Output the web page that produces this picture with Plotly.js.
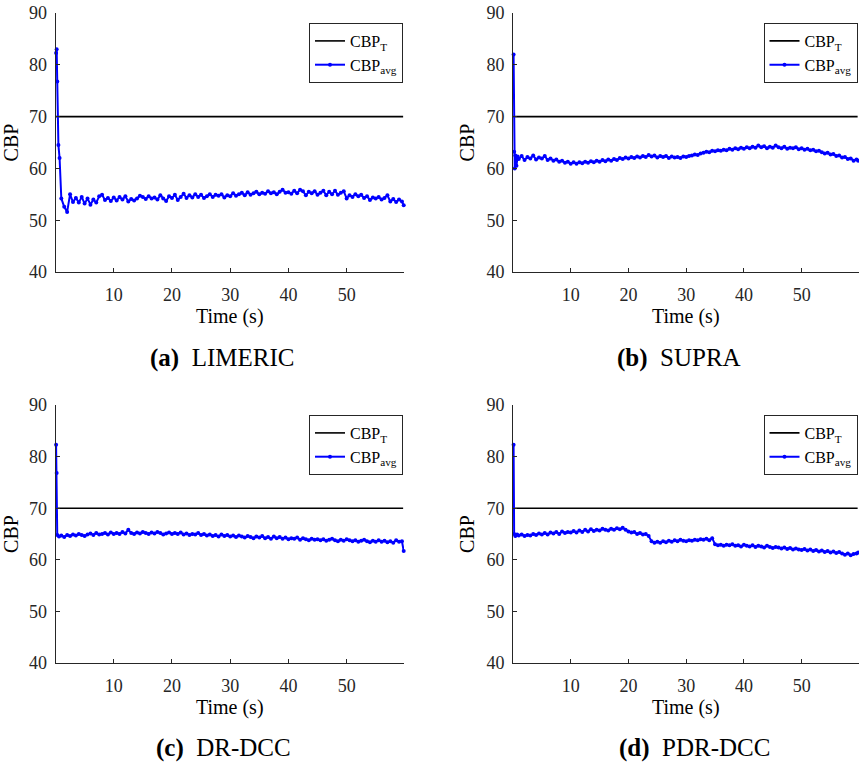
<!DOCTYPE html>
<html>
<head>
<meta charset="utf-8">
<script src="https://cdn.plot.ly/plotly-3.0.1.min.js"></script>
<style>html,body{margin:0;padding:0;background:#fff;}#chart{width:859px;height:765px;}</style>
</head>
<body>
<div id="chart"></div>
<script>
// ---------- DATA ----------
const panelLetters = ["(a)", "(b)", "(c)", "(d)"];
const panelNames = ["LIMERIC", "SUPRA", "DR-DCC", "PDR-DCC"];
const xTicks = [10, 20, 30, 40, 50];
const yTicks = [40, 50, 60, 70, 80, 90];
const cbpTarget = 70;
const targetTime = [0, 59.7];

// shared steady-state sampling times (s)
const timeSteady = [
  1, 1.5, 2, 2.5, 3, 3.5, 4, 4.5, 5, 5.5,
  6, 6.5, 7, 7.5, 8, 8.5, 9, 9.5, 10, 10.5,
  11, 11.5, 12, 12.5, 13, 13.5, 14, 14.5, 15, 15.5,
  16, 16.5, 17, 17.5, 18, 18.5, 19, 19.5, 20, 20.5,
  21, 21.5, 22, 22.5, 23, 23.5, 24, 24.5, 25, 25.5,
  26, 26.5, 27, 27.5, 28, 28.5, 29, 29.5, 30, 30.5,
  31, 31.5, 32, 32.5, 33, 33.5, 34, 34.5, 35, 35.5,
  36, 36.5, 37, 37.5, 38, 38.5, 39, 39.5, 40, 40.5,
  41, 41.5, 42, 42.5, 43, 43.5, 44, 44.5, 45, 45.5,
  46, 46.5, 47, 47.5, 48, 48.5, 49, 49.5, 50, 50.5,
  51, 51.5, 52, 52.5, 53, 53.5, 54, 54.5, 55, 55.5,
  56, 56.5, 57, 57.5, 58, 58.5, 59, 59.5, 59.8
];

// (a) LIMERIC
const limericHeadTime = [0.1, 0.2, 0.3, 0.5, 0.7];
const limericHeadCBP = [82.3, 83.0, 76.8, 64.5, 62.0];
const limericCBP = [
  54.2, 52.6, 51.6, 55.0, 53.5, 54.3, 53.4, 54.5, 53.2, 54.2,
  53.0, 54.0, 53.4, 54.6, 54.9, 53.9, 54.3, 53.7, 54.4, 53.8,
  54.5, 54.0, 54.6, 53.6, 54.1, 53.8, 54.2, 54.7, 54.5, 54.1,
  54.6, 54.2, 54.4, 54.0, 54.8, 54.2, 53.7, 54.6, 54.3, 54.9,
  53.9, 54.5, 55.1, 54.3, 54.8, 54.4, 55.0, 54.5, 54.9, 54.3,
  54.6, 55.0, 54.5, 54.9, 54.7, 55.0, 54.4, 54.8, 54.6, 55.2,
  54.7, 55.0, 55.3, 54.8, 55.4, 54.9, 55.2, 55.5, 55.0, 55.3,
  55.1, 55.6, 55.2, 55.4, 55.0, 55.5, 55.9, 55.3, 55.4, 55.1,
  55.7, 55.2, 55.9, 55.6, 54.8, 55.5, 55.2, 55.6, 54.9, 55.3,
  55.7, 54.8, 55.5, 55.0, 55.7, 54.9, 55.3, 55.6, 54.2, 54.8,
  54.5, 55.0, 54.6, 54.9, 54.3, 54.6, 53.9, 54.4, 54.2, 54.5,
  54.0, 54.3, 54.8, 53.6, 54.1, 53.5, 54.0, 53.6, 52.9
];

// (b) SUPRA
const supraHeadTime = [0.1, 0.2, 0.3, 0.4, 0.6, 0.8];
const supraHeadCBP = [82.0, 63.2, 60.0, 62.5, 60.5, 62.3];
const supraCBP = [
  61.8, 62.4, 61.6, 62.2, 61.9, 62.5, 61.7, 62.1, 61.9, 62.4,
  61.6, 61.9, 61.5, 61.7, 61.3, 61.5, 61.1, 61.3, 60.9, 61.2,
  60.9, 61.2, 61.0, 61.3, 61.1, 61.4, 61.2, 61.5, 61.3, 61.6,
  61.4, 61.7, 61.5, 61.8, 61.6, 62.0, 61.8, 62.1, 61.9, 62.2,
  62.0, 62.3, 62.1, 62.4, 62.2, 62.6, 62.3, 62.5, 62.1, 62.4,
  62.2, 62.4, 62.0, 62.3, 62.1, 62.2, 62.0, 62.3, 62.2, 62.4,
  62.5, 62.7, 62.6, 62.9, 63.0, 63.2, 63.1, 63.4, 63.3, 63.5,
  63.4, 63.6, 63.5, 63.8, 63.6, 63.9, 63.7, 64.0, 63.8, 64.1,
  63.9, 64.2, 64.0, 64.4, 64.1, 64.3, 63.9, 64.2, 64.0, 64.4,
  64.1, 63.9, 64.2, 63.8, 64.0, 63.9, 64.1, 63.7, 63.9, 63.6,
  63.8, 63.5, 63.6, 63.3, 63.4, 63.1, 62.9, 63.0, 62.7, 62.8,
  62.4, 62.5, 62.1, 62.2, 61.8, 61.9, 61.5, 61.7, 61.5
];

// (c) DR-DCC
const drdccHeadTime = [0.1, 0.2, 0.3, 0.6];
const drdccHeadCBP = [82.3, 76.8, 64.8, 64.5];
const drdccCBP = [
  64.7, 64.4, 64.8, 64.6, 64.9, 64.7, 65.0, 64.8, 64.6, 64.9,
  65.1, 64.8, 65.2, 64.9, 65.0, 65.2, 64.9, 65.3, 65.0, 65.2,
  65.0, 65.4, 65.1, 65.8, 65.2, 65.0, 65.3, 65.1, 65.4, 65.2,
  65.0, 65.3, 65.1, 65.4, 65.2, 64.9, 65.1, 65.3, 65.0, 65.2,
  65.0, 65.3, 64.9, 65.1, 64.8, 65.0, 64.9, 65.2, 64.8, 65.0,
  64.7, 64.9, 64.6, 64.8, 64.5, 64.9, 64.6, 64.8, 64.5, 64.7,
  64.4, 64.7, 64.5, 64.3, 64.6, 64.4, 64.2, 64.5, 64.3, 64.6,
  64.2, 64.4, 64.1, 64.5, 64.2, 64.4, 64.1, 64.3, 64.0, 64.2,
  64.1, 64.3, 63.9, 64.2, 64.0, 63.8, 64.1, 63.9, 64.0, 63.8,
  64.0, 63.7, 63.9, 64.1, 63.8, 63.6, 63.9, 63.7, 64.0, 63.8,
  63.6, 63.8, 63.5, 63.7, 63.9, 63.6, 63.4, 63.7, 63.5, 63.8,
  63.5, 63.7, 63.4, 63.6, 63.3, 63.8, 63.5, 63.6, 61.7
];

// (d) PDR-DCC
const pdrdccHeadTime = [0.1, 0.2, 0.4, 0.7];
const pdrdccHeadCBP = [82.3, 65.0, 64.6, 64.9];
const pdrdccCBP = [
  64.7, 64.9, 64.6, 64.8, 64.7, 65.0, 64.8, 65.1, 64.9, 65.2,
  64.9, 65.3, 65.1, 65.4, 65.0, 65.5, 65.2, 65.4, 65.3, 65.6,
  65.3, 65.7, 65.4, 65.8, 65.5, 65.9, 65.6, 65.8, 65.7, 66.0,
  65.8, 65.7, 66.0, 65.8, 66.1, 65.9, 66.2, 65.8, 65.5, 65.3,
  65.4, 65.0, 65.2, 64.9, 65.0, 64.6, 63.6, 63.3, 63.5, 63.3,
  63.6, 63.4, 63.7, 63.5, 63.8, 63.6, 63.9, 63.7, 63.6, 63.8,
  63.7, 63.9, 63.8, 64.0, 63.9, 64.1, 63.8, 64.2, 63.0, 62.8,
  62.9, 62.7, 62.9, 62.8, 63.0, 62.7, 62.8, 62.6, 62.9, 62.7,
  62.6, 62.8, 62.5, 62.7, 62.6, 62.4, 62.7, 62.5, 62.3, 62.5,
  62.4, 62.2, 62.4, 62.1, 62.3, 62.0, 62.2, 62.0, 61.9, 62.1,
  61.8, 62.0, 61.7, 61.9, 61.6, 61.8, 61.5, 61.7, 61.4, 61.6,
  61.3, 61.5, 61.2, 61.0, 61.2, 60.9, 61.1, 61.2, 61.4
];

// ---------- BUILD ----------
const seriesTime = [
  limericHeadTime.concat(timeSteady),
  supraHeadTime.concat(timeSteady),
  drdccHeadTime.concat(timeSteady),
  pdrdccHeadTime.concat(timeSteady)
];
const seriesCBP = [
  limericHeadCBP.concat(limericCBP),
  supraHeadCBP.concat(supraCBP),
  drdccHeadCBP.concat(drdccCBP),
  pdrdccHeadCBP.concat(pdrdccCBP)
];

const W = 859, H = 765;
// pixel boxes [left, right, top, bottom]
const boxes = [
  [55.5, 404, 13, 272],
  [513, 858.5, 13, 272],
  [55.5, 404, 405, 663],
  [513, 858.5, 405, 663]
];
const captionPos = [[222, 358], [679, 358], [224, 748], [694, 748]];
const FONT = "'Liberation Serif', 'Times New Roman', serif";
const AX = "#262626";

const traces = [];
const layout = {
  width: W, height: H,
  margin: {l: 0, r: 0, t: 0, b: 0},
  paper_bgcolor: "#ffffff",
  plot_bgcolor: "#ffffff",
  font: {family: FONT, color: AX, size: 18},
  annotations: []
};

for (let i = 0; i < 4; i++) {
  const sfx = i === 0 ? "" : String(i + 1);
  const xa = "x" + sfx, ya = "y" + sfx;
  const lg = "legend" + sfx;
  const [l, r, t, b] = boxes[i];
  traces.push({
    x: targetTime, y: targetTime.map(() => cbpTarget),
    xaxis: xa, yaxis: ya, legend: lg,
    mode: "lines", name: "CBP<sub>T</sub>",
    line: {color: "#000000", width: 1.6},
    hoverinfo: "skip"
  });
  traces.push({
    x: seriesTime[i], y: seriesCBP[i],
    xaxis: xa, yaxis: ya, legend: lg,
    mode: "lines+markers", name: "CBP<sub>avg</sub>",
    line: {color: "#0000ff", width: 2},
    marker: {color: "#0000ff", size: 4},
    cliponaxis: false
  });
  layout["xaxis" + sfx] = {
    domain: [l / W, r / W], anchor: ya,
    range: [0, 59.85], tickvals: xTicks, ticktext: xTicks.map(String),
    ticks: "inside", ticklen: 4, tickwidth: 1, tickcolor: AX,
    showline: true, linecolor: AX, linewidth: 1, mirror: false,
    showgrid: false, zeroline: false, fixedrange: true,
    tickfont: {family: FONT, size: 18, color: AX},
    ticklabelstandoff: 6,
    title: {text: "Time (s)", font: {family: FONT, size: 20, color: "#000"}, standoff: 4}
  };
  layout["yaxis" + sfx] = {
    domain: [1 - b / H, 1 - t / H], anchor: xa,
    range: [40, 90], tickvals: yTicks, ticktext: yTicks.map(String),
    ticks: "inside", ticklen: 4, tickwidth: 1, tickcolor: AX,
    showline: true, linecolor: AX, linewidth: 1, mirror: false,
    showgrid: false, zeroline: false, fixedrange: true,
    tickfont: {family: FONT, size: 18, color: AX},
    ticklabelstandoff: 4,
    title: {text: "CBP", font: {family: FONT, size: 20, color: "#000"}, standoff: 6}
  };
  layout[lg] = {
    x: (r - 95) / W, y: 1 - (t + 10) / H,
    xanchor: "left", yanchor: "top",
    bgcolor: "#ffffff", bordercolor: "#262626", borderwidth: 1,
    font: {family: FONT, size: 16, color: "#000"},
    itemwidth: 30, tracegroupgap: 0
  };
  layout.annotations.push({
    xref: "paper", yref: "paper",
    x: captionPos[i][0] / W, y: 1 - captionPos[i][1] / H,
    xanchor: "center", yanchor: "middle", showarrow: false,
    text: "<b>" + panelLetters[i] + "</b>  " + panelNames[i],
    font: {family: FONT, size: 25, color: "#000"}
  });
}

Plotly.newPlot("chart", traces, layout, {displayModeBar: false, staticPlot: true});
</script>
</body>
</html>
